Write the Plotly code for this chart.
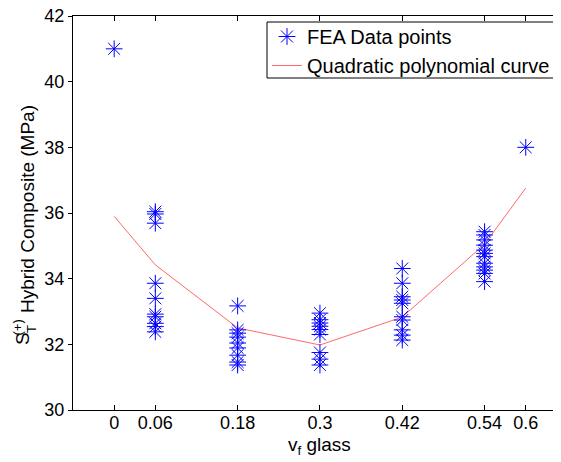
import plotly.graph_objects as go

# ---- data ----
x_groups = [0, 0.06, 0.18, 0.3, 0.42, 0.54, 0.6]
fea_000 = [41.0]
fea_006 = [36.04, 35.97, 35.69, 33.86, 33.40, 32.92, 32.84, 32.64, 32.54, 32.38]
fea_018 = [33.17, 32.44, 32.34, 32.22, 32.04, 31.89, 31.67, 31.46, 31.37]
fea_030 = [32.95, 32.75, 32.65, 32.55, 32.45, 32.30, 31.75, 31.55, 31.37]
fea_042 = [34.31, 33.86, 33.45, 33.35, 33.25, 32.84, 32.74, 32.44, 32.28, 32.13]
fea_054 = [35.43, 35.33, 35.18, 35.02, 34.87, 34.77, 34.67, 34.47, 34.36, 34.26, 34.16, 33.91]
fea_060 = [38.0]
curve_y = [35.90, 34.42, 32.50, 31.98, 32.83, 35.05, 36.76]

x_tickvals = [0, 0.06, 0.18, 0.3, 0.42, 0.54, 0.6]
x_ticktext = ["0", "0.06", "0.18", "0.3", "0.42", "0.54", "0.6"]
y_tickvals = [30, 32, 34, 36, 38, 40, 42]

groups = [fea_000, fea_006, fea_018, fea_030, fea_042, fea_054, fea_060]
pts_x, pts_y = [], []
for gx, vals in zip(x_groups, groups):
    for v in vals:
        pts_x.append(gx)
        pts_y.append(v)

FONT = "Liberation Sans, Arial, Helvetica, sans-serif"

# page has an 8px body margin; plot area in page pixels: x 73..561, y 16..410
OFF = 8
W, H = 561 - OFF, 462 - OFF
PL, PR, PT, PB = 73, 561, 16, 410


def xp(px):
    return (px - PL) / (PR - PL)


def yp(py):
    return (PB - py) / (PB - PT)


fig = go.Figure()
fig.add_trace(go.Scatter(
    x=x_groups, y=curve_y, mode="lines", name="Quadratic polynomial curve",
    line=dict(color="rgb(255,105,105)", width=1), legendrank=2,
))
fig.add_trace(go.Scatter(
    x=pts_x, y=pts_y, mode="markers", name="FEA Data points",
    marker=dict(symbol="asterisk-open", size=14, color="#0000ff",
                line=dict(color="#0000ff", width=1)),
    legendrank=1,
))

ann_font = dict(family=FONT, size=19, color="black")
small_font = dict(family=FONT, size=13, color="black")

fig.update_layout(
    width=W, height=H,
    margin=dict(l=PL - OFF, r=0, t=PT - OFF, b=(H + OFF) - PB, autoexpand=False),
    paper_bgcolor="white", plot_bgcolor="white",
    font=dict(family=FONT, size=18, color="black"),
    showlegend=True,
    legend=dict(
        x=xp(267), y=yp(17), xanchor="left", yanchor="top",
        bgcolor="rgba(0,0,0,0)", borderwidth=0,
        font=dict(family=FONT, size=20, color="black"),
        traceorder="normal",
    ),
    shapes=[
        dict(type="rect", xref="paper", yref="paper",
             x0=xp(267), x1=xp(575), y0=yp(78), y1=yp(22),
             fillcolor="white", line=dict(color="black", width=1), layer="above"),
    ],
    xaxis=dict(
        range=[-0.06, 0.6514], tickvals=x_tickvals, ticktext=x_ticktext,
        showgrid=False, zeroline=False, showline=True, linecolor="black", linewidth=1,
        mirror="ticks", ticks="inside", ticklen=5, tickcolor="black",
        tickfont=dict(family=FONT, size=18), ticklabelstandoff=-4,
        ticklabeloverflow="allow",
    ),
    yaxis=dict(
        range=[30, 42], tickvals=y_tickvals,
        showgrid=False, zeroline=False, showline=True, linecolor="black", linewidth=1,
        mirror=False, ticks="outside", ticklen=4, tickcolor="black",
        tickfont=dict(family=FONT, size=18), ticklabeloverflow="allow",
    ),
    annotations=[
        dict(text="v<sub>f</sub> glass", x=0.3, xref="x", y=yp(446), yref="paper",
             xanchor="center", yanchor="middle", showarrow=False, font=ann_font),
        dict(text="Hybrid Composite (MPa)", x=xp(27), xref="paper", y=yp(209),
             yref="paper", textangle=-90, xanchor="center", yanchor="middle",
             showarrow=False, font=ann_font),
        dict(text="S", x=xp(22), xref="paper", y=yp(339), yref="paper",
             textangle=-90, xanchor="center", yanchor="middle", showarrow=False,
             font=ann_font),
        dict(text="T", x=xp(31), xref="paper", y=yp(329), yref="paper",
             textangle=-90, xanchor="center", yanchor="middle", showarrow=False,
             font=small_font),
        dict(text="(+)", x=xp(16.5), xref="paper", y=yp(328), yref="paper",
             textangle=-90, xanchor="center", yanchor="middle", showarrow=False,
             font=small_font),
    ],
)

fig.write_html("out.html")
